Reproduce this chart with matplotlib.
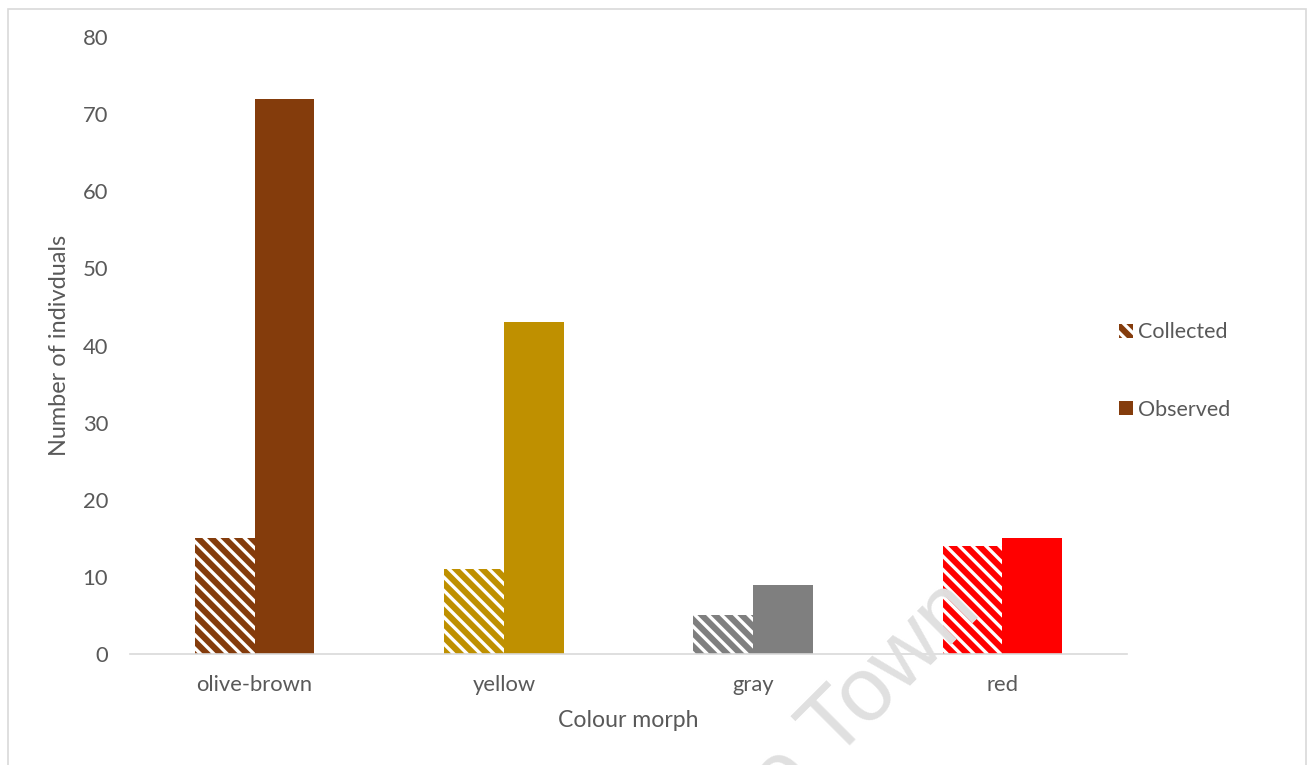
import matplotlib
matplotlib.use("Agg")
import matplotlib.pyplot as plt
import numpy as np
from matplotlib.patches import Patch, Rectangle

# values
categories = ["olive-brown", "yellow", "gray", "red"]
collected = [15, 11, 5, 14]
observed = [72, 43, 9, 15]
bar_colors = ["#843C0C", "#BF9000", "#7F7F7F", "#FF0000"]
y_ticks = [0, 10, 20, 30, 40, 50, 60, 70, 80]

W, H, DPI = 1312, 765, 80
TXT = "#595959"


def pt(px):
    # pixel size -> points at this dpi
    return px * 72 / DPI


plt.rcParams["font.family"] = ["Lato", "DejaVu Sans"]
plt.rcParams["hatch.linewidth"] = 3.0

fig = plt.figure(figsize=(W / DPI, H / DPI), dpi=DPI)
ax = fig.add_axes([130 / W, 1 - 654 / H, (1127 - 130) / W, (654 - 37) / H])
ax.patch.set_alpha(0)

# watermark behind everything, "Town" starts near (834, 762) px, 45 deg
wm_size = pt(90)
r = fig.canvas.get_renderer()
tmp = fig.text(0, 0, "Town", fontsize=wm_size, family="Liberation Sans")
w_town = tmp.get_window_extent(r).width
tmp.remove()
ang = 45
ex = 834 + w_town * np.cos(np.radians(ang))
ey = 762 - w_town * np.sin(np.radians(ang))
fig.text(ex / W, 1 - ey / H, "University of Cape Town", fontsize=wm_size,
         family="Liberation Sans", color="#e0e0e0", rotation=ang,
         rotation_mode="anchor", ha="right", va="baseline", zorder=0)

x = np.arange(len(categories))
bw = 0.24
for i in range(len(categories)):
    ax.bar(x[i] - bw / 2, collected[i], bw, color=bar_colors[i],
           edgecolor="white", linewidth=0, hatch="\\\\", zorder=2)
    ax.bar(x[i] + bw / 2, observed[i], bw, color=bar_colors[i],
           linewidth=0, zorder=2)

ax.set_xlim(-0.5, len(categories) - 0.5)
ax.set_ylim(0, 80)
ax.set_yticks(y_ticks)
ax.set_xticks(x)
ax.set_xticklabels(categories)
ax.tick_params(length=0, labelsize=pt(22), labelcolor=TXT)
ax.tick_params(axis="y", pad=pt(22))
ax.tick_params(axis="x", pad=pt(21))

for s in ["top", "right", "left"]:
    ax.spines[s].set_visible(False)
ax.spines["bottom"].set_color("#D9D9D9")
ax.spines["bottom"].set_linewidth(1.5)
ax.spines["bottom"].set_zorder(3)

ax.set_ylabel("Number of indivduals", fontsize=pt(23.5), color=TXT, labelpad=pt(13))
ax.set_xlabel("Colour morph", fontsize=pt(23), color=TXT, labelpad=pt(15))

handles = [Patch(facecolor=bar_colors[0], edgecolor="white", linewidth=0, hatch="\\\\"),
           Patch(facecolor=bar_colors[0], linewidth=0)]
leg = fig.legend(handles, ["Collected", "Observed"], loc="center left",
                 bbox_to_anchor=(1100 / W, 1 - 371 / H), frameon=False,
                 fontsize=pt(21.5), labelspacing=2.67, handlelength=0.62,
                 handleheight=0.62, handletextpad=0.25, labelcolor=TXT)

# chart border
fig.add_artist(Rectangle((8 / W, -0.1), (1306 - 8) / W, 1.1 - 9 / H,
                         transform=fig.transFigure, fill=False,
                         edgecolor="#D9D9D9", linewidth=1.5))

fig.savefig("out.png", dpi=DPI)
